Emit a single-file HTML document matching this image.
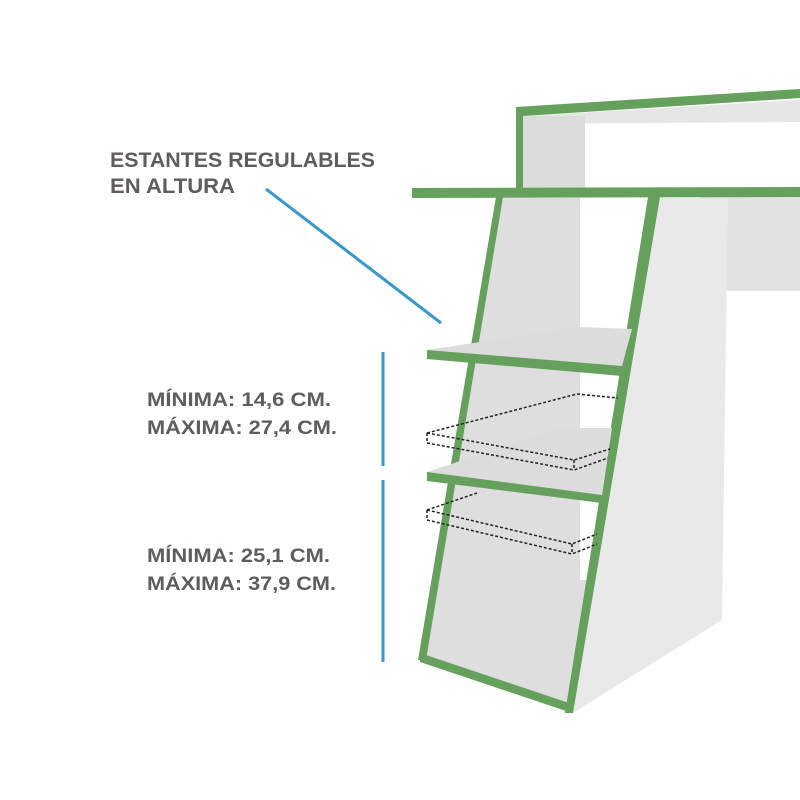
<!DOCTYPE html>
<html><head><meta charset="utf-8"><style>html,body{margin:0;padding:0;background:#fff}svg{display:block}text{font-family:"Liberation Sans",sans-serif;font-weight:bold;fill:#5f5d5b}</style></head>
<body>
<svg width="800" height="800" viewBox="0 0 800 800" xmlns="http://www.w3.org/2000/svg">
<rect width="800" height="800" fill="#fff"/>
<polygon points="523,116 800,100 800,122 523,124" fill="#e6e6e6"/>
<rect x="523" y="116" width="62" height="74" fill="#dcdcdc"/>
<polygon points="516,107 800,89 800,98 523,116 523,190 516,190" fill="#65a05c"/>
<rect x="700" y="197" width="100" height="94" fill="#e2e2e2"/>
<polygon points="500,198 580,198 580,580 640,580 568,705 422,660" fill="#dedede"/>
<polygon points="655,198 728,198 722,620 573,713 565,713" fill="#e9e9e9"/>
<polygon points="496,197 503,197 426,660 418,660" fill="#65a05c"/>
<polygon points="420,653 572,704 572,713 420,662" fill="#65a05c"/>
<polygon points="648,197 660,197 573,713 565,713" fill="#65a05c"/>
<polygon points="412,188 800,187 800,197 412,198" fill="#65a05c"/>
<polygon points="427,350 580,327 632,329 622,366" fill="#dcdcdc"/>
<polygon points="427,350 622,366 622,376 427,359" fill="#65a05c"/>
<polygon points="427,472 560,428 612,428 602,496" fill="#dcdcdc"/>
<polygon points="427,472 602,495 602,503 427,481" fill="#65a05c"/>
<g fill="none" stroke="#222" stroke-width="1.5" stroke-dasharray="3,2">
<polyline points="427,433 577,394 618,398"/>
<polyline points="427,433 574,460 610,449"/>
<polyline points="427,443 574,470 608,458"/>
<line x1="574" y1="460" x2="574" y2="470"/>
<line x1="427" y1="433" x2="427" y2="443"/>
<polyline points="427,510 477,493"/>
<polyline points="427,510 572,544 597,534"/>
<polyline points="427,520 572,554 597,544"/>
<line x1="572" y1="544" x2="572" y2="554"/>
<line x1="427" y1="510" x2="427" y2="520"/>
</g>
<g stroke="#3a98c6" stroke-width="3">
<line x1="266" y1="189" x2="441" y2="323"/>
<line x1="383" y1="352" x2="383" y2="466"/>
<line x1="383" y1="480" x2="383" y2="662"/>
</g>
<text x="110" y="167" font-size="21" textLength="265" lengthAdjust="spacingAndGlyphs">ESTANTES REGULABLES</text>
<text x="110" y="193" font-size="21" textLength="125" lengthAdjust="spacingAndGlyphs">EN ALTURA</text>
<text x="147" y="406" font-size="19" textLength="184" lengthAdjust="spacingAndGlyphs">MÍNIMA: 14,6 CM.</text>
<text x="147" y="434" font-size="19" textLength="190" lengthAdjust="spacingAndGlyphs">MÁXIMA: 27,4 CM.</text>
<text x="147" y="562" font-size="19" textLength="183" lengthAdjust="spacingAndGlyphs">MÍNIMA: 25,1 CM.</text>
<text x="147" y="590" font-size="19" textLength="189" lengthAdjust="spacingAndGlyphs">MÁXIMA: 37,9 CM.</text>
</svg>
</body></html>
